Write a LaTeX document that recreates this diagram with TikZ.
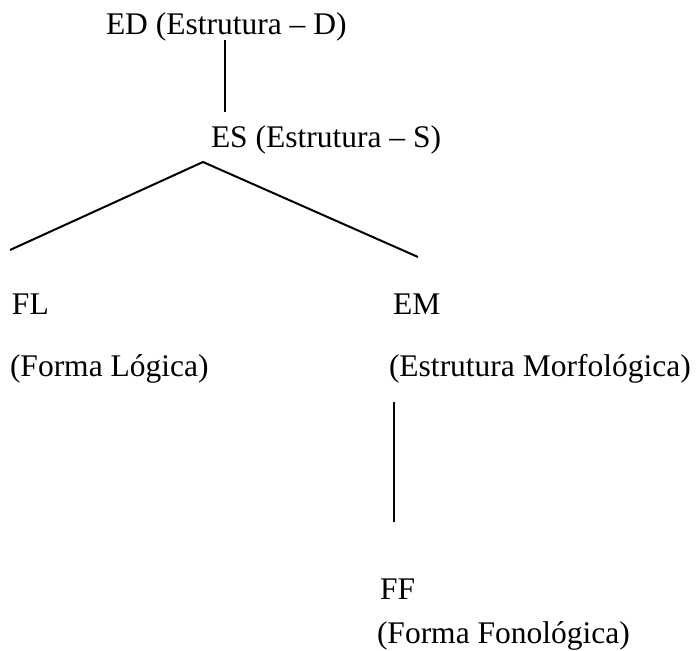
\documentclass[tikz,border=0pt]{standalone}
\usepackage{fontspec}
\setmainfont{Liberation Serif}
\begin{document}
\begin{tikzpicture}[x=1pt,y=-1pt,
  lbl/.style={inner sep=0pt,outer sep=0pt,anchor=base west,font=\fontsize{31.5}{38}\selectfont},
  conn/.style={line width=2pt}]
\useasboundingbox (0,0) rectangle (698,650);
\node[lbl] (ed) at (106,35) {ED (Estrutura – D)};
\node[lbl] (es) at (211,147) {ES (Estrutura – S)};
\node[lbl] (fl) at (12,314) {FL};
\node[lbl] (fldesc) at (10,376) {(Forma Lógica)};
\node[lbl] (em) at (393,314) {EM};
\node[lbl] (emdesc) at (389,376) {(Estrutura Morfológica)};
\node[lbl] (ff) at (380,599) {FF};
\node[lbl] (ffdesc) at (377,643) {(Forma Fonológica)};
\coordinate (edbot) at (225,40);
\coordinate (estop) at (225,112);
\coordinate (apex) at (203,162);
\coordinate (flend) at (10,250);
\coordinate (emend) at (418,257);
\coordinate (emlow) at (394,402);
\coordinate (fftop) at (394,522);
\draw[conn] (edbot) -- (estop);
\draw[conn] (flend) -- (apex) -- (emend);
\draw[conn] (emlow) -- (fftop);
\end{tikzpicture}
\end{document}
